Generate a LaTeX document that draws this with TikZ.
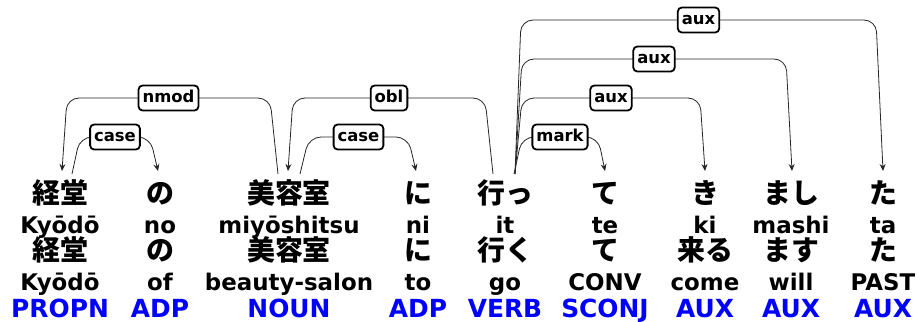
\documentclass[tikz,border=0pt]{standalone}
\usepackage{fontspec}
\setmainfont{DejaVu Sans}
\newfontfamily\jpf{Noto Sans CJK JP}
\usetikzlibrary{arrows.meta}
\begin{document}
\begin{tikzpicture}[x=1bp,y=-1bp,
  jp/.style={font=\jpf\fontsize{28}{28}\selectfont\bfseries, anchor=base, inner sep=0pt},
  lat/.style={font=\fontsize{23}{23}\selectfont\bfseries, anchor=base, inner sep=0pt},
  upos/.style={font=\fontsize{25}{25}\selectfont\bfseries, text=blue, anchor=base, inner sep=0pt},
  lbl/.style={draw=black, line width=1.8bp, rounded corners=4bp, fill=white,
    font=\fontsize{16.5}{16.5}\selectfont\bfseries, inner xsep=4bp, inner ysep=5bp,
    text height=12bp, text depth=3bp},
  deparc/.style={draw=black!85, line width=0.8bp, rounded corners=12bp,
    -{Stealth[length=7bp,width=6bp]}},
]
\useasboundingbox (0,0) rectangle (921,321);

% words: row1 surface, row2 romanization, row3 lemma, row4 gloss, row5 upos
\foreach \i/\x/\a/\b/\c/\d/\e in {
  1/60/経堂/Kyōdō/経堂/Kyōdō/PROPN,
  2/160/の/no/の/of/ADP,
  3/289/美容室/miyōshitsu/美容室/beauty-salon/NOUN,
  4/418/に/ni/に/to/ADP,
  5/505/行っ/it/行く/go/VERB,
  6/605/て/te/て/CONV/SCONJ,
  7/705/き/ki/来る/come/AUX,
  8/791/まし/mashi/ます/will/AUX,
  9/883/た/ta/た/PAST/AUX}{
  \node[jp]   (w\i)  at (\x,203) {\a};
  \node[lat]  (r\i)  at (\x,233) {\b};
  \node[jp]   (l\i)  at (\x,260) {\c};
  \node[lat]  (g\i)  at (\x,290) {\d};
  \node[upos] (p\i)  at (\x,317) {\e};
}

% arc end points
\coordinate (nmodH) at (278,174);  \coordinate (nmodD) at (62,171);
\coordinate (case1H) at (72,174);  \coordinate (case1D) at (158,171);
\coordinate (oblH) at (493,174);   \coordinate (oblD) at (288,171);
\coordinate (case2H) at (300,174); \coordinate (case2D) at (416,171);
\coordinate (markH) at (514,174);  \coordinate (markD) at (605,171);
\coordinate (auxaH) at (515,174);  \coordinate (auxaD) at (705,171);
\coordinate (auxbH) at (515,174);  \coordinate (auxbD) at (792,171);
\coordinate (auxcH) at (515,174);  \coordinate (auxcD) at (883,171);

\draw[deparc] (nmodH) -- (270,98) -- node[lbl]{nmod} (67,98) -- (nmodD);
\draw[deparc] (case1H) -- (80,137) -- node[lbl]{case} (150,137) -- (case1D);
\draw[deparc] (oblH) -- (485,98) -- node[lbl]{obl} (293,98) -- (oblD);
\draw[deparc] (case2H) -- (309,137) -- node[lbl]{case} (408,137) -- (case2D);
\draw[deparc] (markH) -- (522,137) -- node[lbl]{mark} (598,137) -- (markD);
\draw[deparc] (auxaH) -- (522,98) -- node[lbl]{aux} (700,98) -- (auxaD);
\draw[deparc] (auxbH) -- (522,59) -- node[lbl]{aux} (786,59) -- (auxbD);
\draw[deparc] (auxcH) -- (521,20) -- node[lbl]{aux} (876,20) -- (auxcD);
\end{tikzpicture}
\end{document}
